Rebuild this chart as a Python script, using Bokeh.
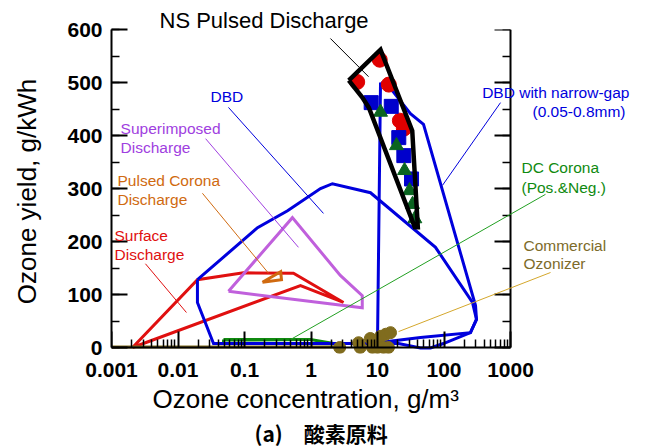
import numpy as np
from bokeh.plotting import figure
from bokeh.models import (LinearAxis, LogAxis, FixedTicker, SingleIntervalTicker,
                          CustomJSTickFormatter, Label, Arrow, Range1d, Title)
from bokeh.embed import file_html
from bokeh.resources import INLINE

# ---------------- data ----------------
x_ticks = [0.001, 0.01, 0.1, 1, 10, 100, 1000]
x_minor = [k * 10.0 ** e for e in range(-3, 3) for k in range(2, 10)]

surface_x = [0.00207, 0.0196, 0.0966, 0.545, 3.08, 0.695, 0.00207]
surface_y = [0, 128, 141, 140, 85, 117, 0]

superimposed_x = [0.0575, 0.525, 2.76, 5.9, 5.9, 0.0575]
superimposed_y = [106, 245, 136, 98, 75, 106]

pulsed_corona_x = [0.186, 0.35, 0.36, 0.186]
pulsed_corona_y = [123, 143, 128, 123]

dc_corona_x = [0.0483, 0.98, 2.3, 0.0483, 0.0483]
dc_corona_y = [15, 15, 7, 9, 15]

dbd_x = [0.0196, 0.157, 0.444, 1.39, 2.1, 7.85, 74.5, 268, 308, 250, 98,
         62.7, 44.3, 20.7, 0.0342, 0.0196, 0.0196]
dbd_y = [128, 226, 258, 300, 309, 292, 189, 85, 53, 28, 7.5,
         -1, -1, 7.5, 7.5, 85, 128]

narrow_x = [11.1, 15.7, 31.3, 49.2, 298, 308, 250, 44.3, 10.0, 11.1]
narrow_y = [500, 489, 441, 421, 79, 53, 28, 19, 9, 500]

ns_x = [3.70, 11.1, 33.3, 40.4, 36.4, 7.4, 5.89, 3.70]
ns_y = [504, 562, 409, 227, 227, 453, 472, 504]

ns_circle_x = [4.95, 10.8, 14.8, 21.7, 24.9]
ns_circle_y = [501, 543, 496, 428, 413]

ns_square_x = [8.04, 16.1, 20.9, 24.9, 32.5]
ns_square_y = [462, 455, 396, 362, 318]

ns_triangle_x = [11.1, 19.3, 25.5, 30.3, 33.6, 36.4]
ns_triangle_y = [444, 381, 334, 296, 270, 243]

ozon_line_x = [0.001, 2.7]
ozon_line_y = [1, 1]
ozon_x = [2.7, 5.2, 5.5, 7.8, 8.4, 10.0, 11.1, 12.3, 13.3, 14.6, 15.7]
ozon_y = [0, 9, 0, 17, 0, 0, 21, 0, 25, 0, 28]

# ---------------- layout constants ----------------
PX_PER_DECADE = 66.5       # 0.001 .. 1000 spans 399 px
PX_PER_UNIT = 0.53         # 0 .. 600 spans 318 px
BELOW_ZERO_PX = 6          # frame reaches a little under the y = 0 axis
FRAME_LEFT, FRAME_W = 111, 529
FRAME_TOP = 29
FRAME_H = int(round(600 * PX_PER_UNIT)) + BELOW_ZERO_PX
x_end = 10 ** (-3 + FRAME_W / PX_PER_DECADE)
y_start = -BELOW_ZERO_PX / PX_PER_UNIT
y_end = (FRAME_H - BELOW_ZERO_PX) / PX_PER_UNIT

# ---------------- colours ----------------
BLUE = "#0000dd"
RED = "#e01010"
PURPLE_LINE = "#c060dc"
PURPLE_TEXT = "#a040e0"
ORANGE = "#d06a10"
GREEN = "#108a10"
OLIVE = "#806c1e"
GOLD = "#d4a72c"
FONT = "Liberation Sans"

p = figure(frame_width=FRAME_W, frame_height=FRAME_H, x_axis_type="log",
           x_range=Range1d(0.001, x_end), y_range=Range1d(y_start, y_end),
           output_backend="svg", toolbar_location=None,
           min_border_left=FRAME_LEFT, min_border_right=6,
           min_border_top=FRAME_TOP, min_border_bottom=446 - FRAME_TOP - FRAME_H)
p.title.visible = False
p.outline_line_color = None
p.xgrid.visible = False
p.ygrid.visible = False
p.background_fill_color = "white"
p.border_fill_color = "white"

# polygons
lw = 3
p.line(surface_x, surface_y, line_color=RED, line_width=lw, line_join="miter")
p.line(superimposed_x, superimposed_y, line_color=PURPLE_LINE, line_width=lw, line_join="miter")
p.line(pulsed_corona_x, pulsed_corona_y, line_color=ORANGE, line_width=lw, line_join="miter")
p.line(dc_corona_x, dc_corona_y, line_color=GREEN, line_width=lw, line_join="miter")
p.line(dbd_x, dbd_y, line_color=BLUE, line_width=lw, line_join="miter")
p.line(narrow_x, narrow_y, line_color=BLUE, line_width=lw, line_join="miter")

# commercial ozonizer
p.line(ozon_line_x, ozon_line_y, line_color=OLIVE, line_width=3)
p.scatter(ozon_x, ozon_y, marker="circle", size=12, fill_color=OLIVE, line_color=OLIVE)

# NS pulsed discharge points
p.scatter(ns_circle_x, ns_circle_y, marker="circle", size=15, fill_color="#e00000", line_color="#e00000")
p.scatter(ns_square_x, ns_square_y, marker="square", size=14, fill_color="#0000cc", line_color="#0000cc")
p.scatter(ns_triangle_x, ns_triangle_y, marker="triangle", size=14, fill_color="#0a6420", line_color="#0a6420")
p.line(ns_x, ns_y, line_color="black", line_width=4.5, line_join="miter")

# leader lines
leaders = [
    ((1.96, 583), (7.33, 511), "black"),
    ((0.0574, 453), (1.54, 253), BLUE),
    ((0.026, 394), (0.648, 189), PURPLE_TEXT),
    ((0.0233, 291), (0.23, 140), ORANGE),
    ((0.00324, 158), (0.0134, 66), RED),
    ((708, 462), (94.9, 306), BLUE),
    ((3360, 289), (0.492, 15), "#22a022"),
    ((20.7, 30), (4000, 141.5), GOLD),
]
for (xs, ys), (xe, ye), c in leaders:
    p.add_layout(Arrow(end=None, x_start=xs, y_start=ys, x_end=xe, y_end=ye,
                       line_color=c, line_width=1))

# labels
def lab(x, y, t, c, size="15.5px", align="left"):
    p.add_layout(Label(x=x, y=y, text=t, text_color=c, text_font_size=size,
                       text_align=align, text_baseline="middle",
                       text_font=FONT))

lab(0.0308, 474, "DBD", BLUE)
lab(0.00137, 413, "Superimposed", PURPLE_TEXT)
lab(0.00137, 377, "Discharge", PURPLE_TEXT)
lab(0.00123, 315, "Pulsed Corona", ORANGE)
lab(0.00123, 279, "Discharge", ORANGE)
lab(0.00111, 211, "Surface", RED)
lab(0.00111, 175, "Discharge", RED)
lab(61500, 481, "DBD with narrow-gap", BLUE, align="right")
lab(53600, 445, "(0.05-0.8mm)", BLUE, align="right")
lab(1462, 340, "DC Corona", GREEN)
lab(1462, 302, "(Pos.&Neg.)", GREEN)
lab(1567, 192.5, "Commercial", "#7d6b2a")
lab(1567, 158.5, "Ozonizer", "#7d6b2a")

ns_title = Title(text="NS Pulsed Discharge", align="left", offset=48,
                 text_font=FONT, text_font_size="22px", text_font_style="normal",
                 text_color="black", standoff=-6)
p.add_layout(ns_title, "above")

# ---------------- axes ----------------
def style_ticks(ax):
    ax.axis_line_width = 2
    ax.axis_line_color = "black"
    ax.major_tick_in = 16
    ax.major_tick_out = 0
    ax.minor_tick_in = 8
    ax.minor_tick_out = 0
    ax.major_tick_line_width = 2
    ax.minor_tick_line_width = 1.5
    ax.major_tick_line_color = "black"
    ax.minor_tick_line_color = "black"

def style_labels(ax):
    ax.major_label_text_font = FONT
    ax.major_label_text_font_style = "bold"
    ax.major_label_text_font_size = "21px"
    ax.major_label_text_color = "black"

def hide_labels(ax):
    ax.major_label_text_font_size = "0px"
    ax.major_label_text_alpha = 0
    ax.major_label_standoff = 0

# x axis: tick labels come from the default axis at the frame edge,
# the axis line and ticks from a second axis pinned at y = 0
xa = p.xaxis[0]
xa.ticker = FixedTicker(ticks=x_ticks, minor_ticks=x_minor)
xa.formatter = CustomJSTickFormatter(code="return tick.toString();")
xa.bounds = (0.001, 1000)
style_labels(xa)
xa.axis_line_color = None
xa.major_tick_line_color = None
xa.minor_tick_line_color = None
xa.major_tick_in = 0
xa.major_tick_out = 0
xa.minor_tick_in = 0
xa.minor_tick_out = 0
xa.major_label_standoff = 9

xline = LogAxis(ticker=FixedTicker(ticks=x_ticks, minor_ticks=x_minor),
                fixed_location=0, bounds=(0.001, 1000))
style_ticks(xline)
hide_labels(xline)
p.add_layout(xline, "below")

ya = p.yaxis[0]
ya.ticker = SingleIntervalTicker(interval=100, num_minor_ticks=2)
ya.bounds = (0, 600)
style_ticks(ya)
style_labels(ya)
ya.major_label_standoff = 9
ya.axis_label = "Ozone yield, g/kWh"
ya.axis_label_text_font = FONT
ya.axis_label_text_font_style = "normal"
ya.axis_label_text_font_size = "26px"
ya.axis_label_text_color = "black"
ya.axis_label_standoff = 22

ra = LinearAxis(ticker=SingleIntervalTicker(interval=100, num_minor_ticks=2),
                fixed_location=1000, bounds=(0, 600))
style_ticks(ra)
hide_labels(ra)
p.add_layout(ra, "right")

# x-axis title and caption as titles in the lower panel
xtitle = Title(text="Ozone concentration, g/m\u00b3", align="left", offset=41,
               text_font=FONT, text_font_size="26px", text_font_style="normal",
               text_color="black", standoff=4)
p.add_layout(xtitle, "below")

sub = Title(text="(a)\u3000酸素原料", align="left", offset=143,
            text_font="Noto Sans CJK JP", text_font_size="21px",
            text_font_style="bold", text_color="black", standoff=0)
p.add_layout(sub, "below")

open("out.html", "w").write(file_html(p, INLINE))
